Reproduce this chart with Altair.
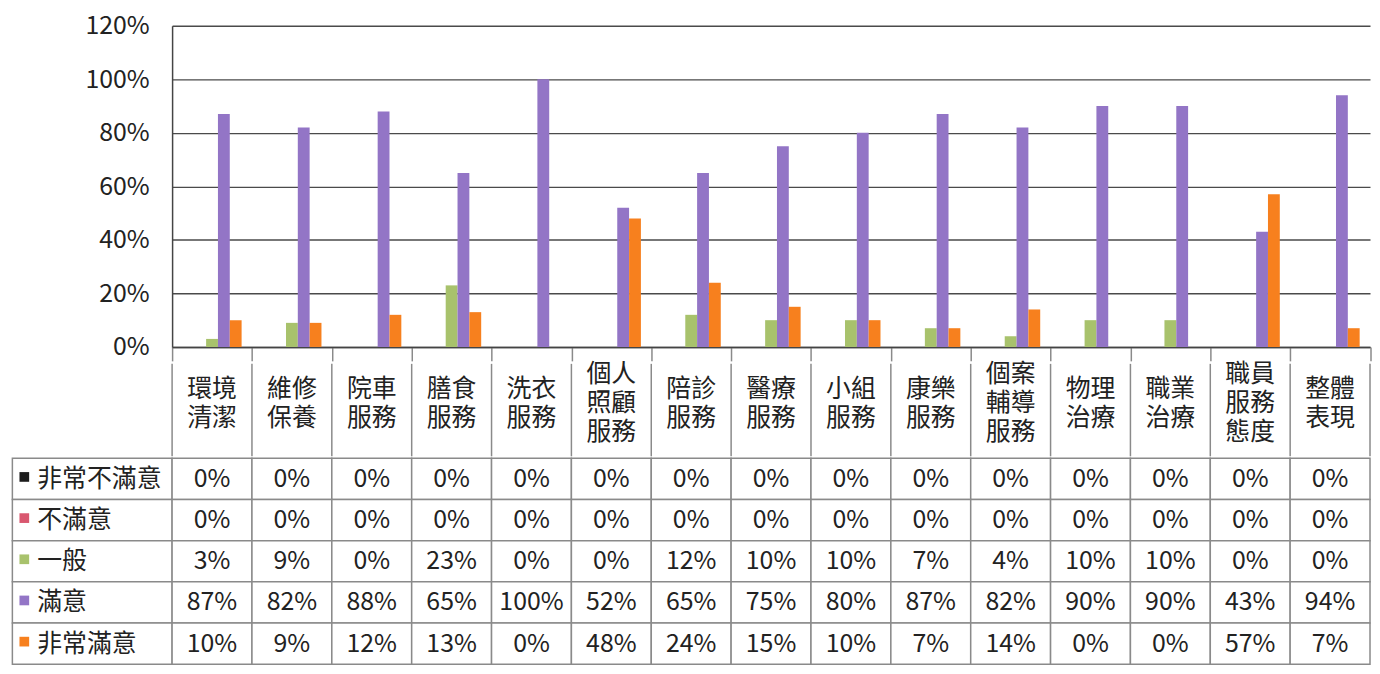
import altair as alt
import pandas as pd

categories = ["環境清潔", "維修保養", "院車服務", "膳食服務", "洗衣服務", "個人照顧服務",
              "陪診服務", "醫療服務", "小組服務", "康樂服務", "個案輔導服務", "物理治療",
              "職業治療", "職員服務態度", "整體表現"]
series = ["非常不滿意", "不滿意", "一般", "滿意", "非常滿意"]
very_dissatisfied = [0, 0, 0, 0, 0, 0, 0, 0, 0, 0, 0, 0, 0, 0, 0]
dissatisfied = [0, 0, 0, 0, 0, 0, 0, 0, 0, 0, 0, 0, 0, 0, 0]
neutral = [3, 9, 0, 23, 0, 0, 12, 10, 10, 7, 4, 10, 10, 0, 0]
satisfied = [87, 82, 88, 65, 100, 52, 65, 75, 80, 87, 82, 90, 90, 43, 94]
very_satisfied = [10, 9, 12, 13, 0, 48, 24, 15, 10, 7, 14, 0, 0, 57, 7]
colors = ["#1c1c1c", "#d9576f", "#a8c26c", "#9375c6", "#f7801e"]
y_ticks = [0, 0.2, 0.4, 0.6, 0.8, 1.0, 1.2]

values_by_series = [very_dissatisfied, dissatisfied, neutral, satisfied, very_satisfied]

FONT = "Noto Sans CJK TC"
CW = 80.3           # width of one category column
BAR_H = 323
HEADER_H = 107      # whole header row
GAP = 14            # top part of the header row drawn by the bar chart's x-axis ticks
ROW_H = 41.4
LINE_H = 29
GRID = "#8a8a8a"
N = len(categories)

rows = []
for s, vals in zip(series, values_by_series):
    for i, (c, v) in enumerate(zip(categories, vals)):
        rows.append({"category": c, "series": s, "value": v / 100.0,
                     "cm": i + 0.5, "label": f"{v}%"})
df = pd.DataFrame(rows)

color_scale = alt.Scale(domain=series, range=colors)

# ---------- bar chart ----------
bars = alt.Chart(df).mark_bar().encode(
    x=alt.X("category:N", sort=categories,
            scale=alt.Scale(domain=categories, paddingInner=0, paddingOuter=0),
            axis=alt.Axis(title=None, labels=False, ticks=True, tickBand="extent",
                          tickSize=GAP, tickColor=GRID, tickWidth=1.5,
                          domainColor="#444", domainWidth=1.5)),
    xOffset=alt.XOffset("series:N", sort=series,
                        scale=alt.Scale(domain=series, paddingInner=0, paddingOuter=0.875)),
    y=alt.Y("value:Q", scale=alt.Scale(domain=[0, 1.2], nice=False),
            axis=alt.Axis(title=None, values=y_ticks, format=".0%", ticks=False,
                          labelFont=FONT, labelFontSize=25, labelColor="#222",
                          labelPadding=23, grid=True, gridColor="#4a4a4a", gridWidth=1.4,
                          domainColor="#444", domainWidth=1.5)),
    color=alt.Color("series:N", scale=color_scale, legend=None),
).properties(width=N * CW, height=BAR_H)

# ---------- header row (category names) ----------
xq = alt.Scale(domain=[0, N], nice=False, zero=False)
head_df = pd.DataFrame({
    "category": categories,
    "cm": [i + 0.5 for i in range(N)],
    "text": ["\n".join(c[j:j + 2] for j in range(0, len(c), 2)) for c in categories],
    "lines": [(len(c) + 1) // 2 for c in categories],
})
bound_df = pd.DataFrame({"b": list(range(N + 1))})

head_lines = alt.Chart(bound_df).mark_rule(color=GRID, strokeWidth=1.5).encode(
    x=alt.X("b:Q", scale=xq, axis=None))


def head_text(n):
    return alt.Chart(head_df).transform_filter(f"datum.lines == {n}").mark_text(
        font=FONT, fontSize=25, color="#222", lineBreak="\n", lineHeight=LINE_H,
        baseline="middle", dy=-(n - 1) * LINE_H / 2 - GAP / 2
    ).encode(x=alt.X("cm:Q", scale=xq, axis=None), text="text:N")


header = alt.layer(head_lines, head_text(2), head_text(3)).properties(
    width=N * CW, height=HEADER_H - GAP)

# ---------- data table ----------
cell_rows = []
for s in series:
    cell_rows.append({"series": s, "c0": -2, "c1": 0})
    for i in range(N):
        cell_rows.append({"series": s, "c0": i, "c1": i + 1})
cells_df = pd.DataFrame(cell_rows)
labels_df = pd.DataFrame({"series": series, "x": [-2] * len(series)})

yrow = alt.Y("series:N", sort=series, scale=alt.Scale(domain=series, paddingInner=0,
                                                       paddingOuter=0), axis=None)

cells = alt.Chart(cells_df).mark_rect(fill="white", stroke=GRID, strokeWidth=1.5).encode(
    x=alt.X("c0:Q", scale=xq, axis=None), x2="c1:Q", y=yrow)

value_text = alt.Chart(df).mark_text(font=FONT, fontSize=25, color="#222").encode(
    x=alt.X("cm:Q", scale=xq, axis=None), y=yrow, text="label:N")

row_labels = alt.Chart(labels_df).mark_text(font=FONT, fontSize=25, color="#222",
                                            align="left", xOffset=25).encode(
    x=alt.X("x:Q", scale=xq, axis=None), y=yrow, text="series:N")

squares = alt.Chart(labels_df).mark_square(size=95, opacity=1, yOffset=-2, xOffset=12).encode(
    x=alt.X("x:Q", scale=xq, axis=None), y=yrow,
    color=alt.Color("series:N", scale=color_scale, legend=None))

table = alt.layer(cells, value_text, row_labels, squares).properties(
    width=N * CW, height=5 * ROW_H)

chart = alt.vconcat(bars, header, table, spacing=0).properties(
    padding={"left": 3, "top": 4, "right": 0, "bottom": 0}
).configure(font=FONT).configure_view(stroke=None)

chart.save("out.html", embed_options={"renderer": "svg", "actions": False})
